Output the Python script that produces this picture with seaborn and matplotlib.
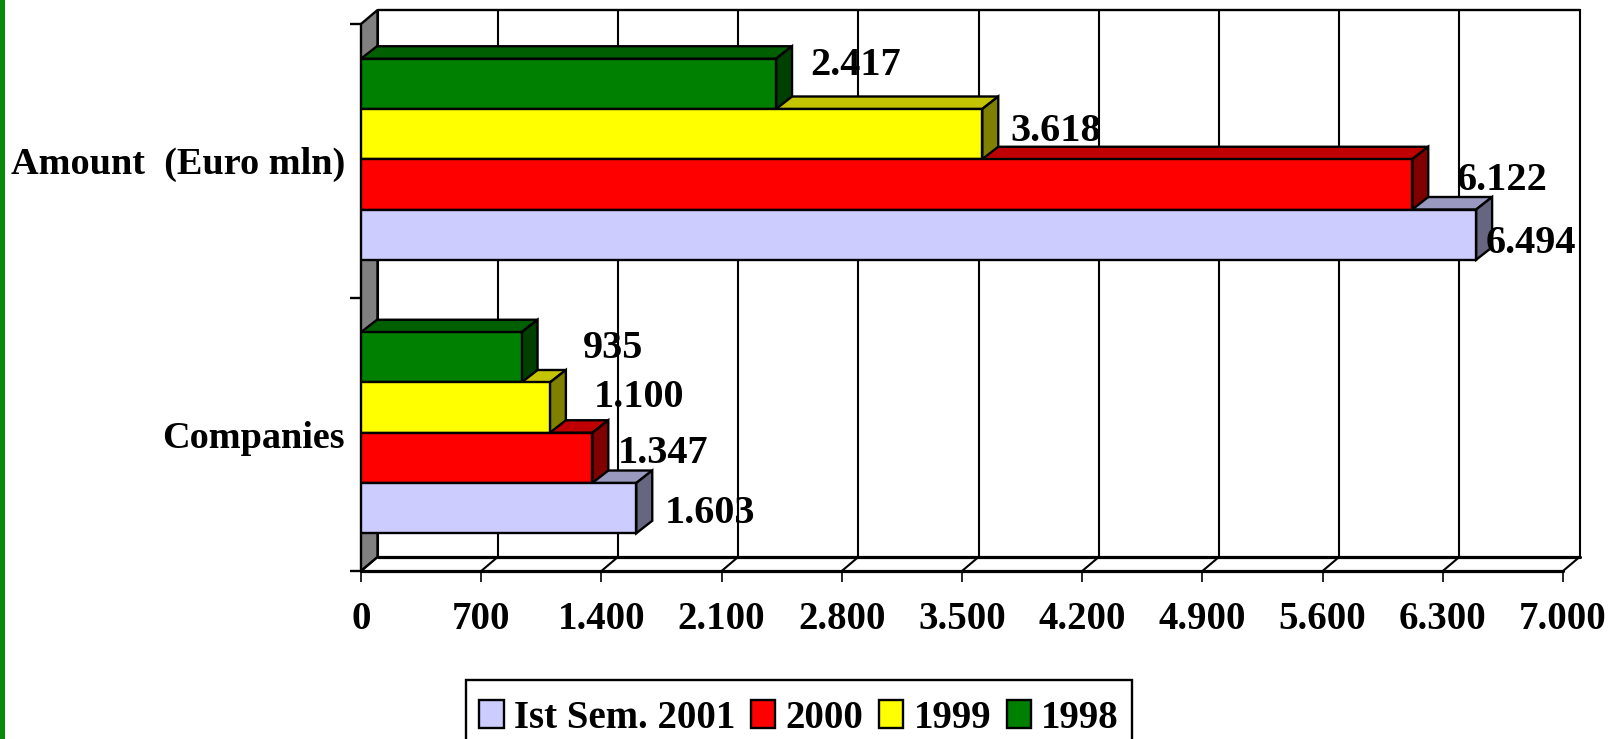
import numpy as np
import pandas as pd
import matplotlib
matplotlib.use('Agg')
import matplotlib.pyplot as plt
from matplotlib.patches import Polygon, Rectangle
import seaborn as sns

measures = ['Amount  (Euro mln)', 'Companies']
periods = ['1998', '1999', '2000', 'Ist Sem. 2001']
values_1998 = [2417, 935]
values_1999 = [3618, 1100]
values_2000 = [6122, 1347]
values_2001 = [6494, 1603]
x_ticks = [0, 700, 1400, 2100, 2800, 3500, 4200, 4900, 5600, 6300, 7000]

front_colors = {'1998': '#008000', '1999': '#FFFF00', '2000': '#FF0000', 'Ist Sem. 2001': '#CCCCFF'}
top_colors = {'1998': '#005F00', '1999': '#C4C400', '2000': '#BF0000', 'Ist Sem. 2001': '#9999BF'}
side_colors = {'1998': '#004000', '1999': '#808000', '2000': '#800000', 'Ist Sem. 2001': '#666680'}

rows = []
for period, vals in zip(periods, [values_1998, values_1999, values_2000, values_2001]):
    for measure, v in zip(measures, vals):
        rows.append({'measure': measure, 'period': period, 'value': v})
df = pd.DataFrame(rows)

W, H = 1616, 739
sns.set_style('white')
plt.rcParams['font.family'] = ['Liberation Serif', 'DejaVu Serif']
plt.rcParams['font.weight'] = 'bold'
plt.rcParams['text.color'] = 'black'
FS = 28

fig = plt.figure(figsize=(W / 100, H / 100), dpi=100)
fig.patches.append(Rectangle((0, 0), 5 / W, 1, transform=fig.transFigure, facecolor='#0A8A0A', edgecolor='none'))

# front plane of the 3d box in pixels
left, right, top, bottom = 361, 1563, 24, 571
ax = fig.add_axes([left / W, 1 - bottom / H, (right - left) / W, (bottom - top) / H])
ax.patch.set_alpha(0)

sns.barplot(data=df, y='measure', x='value', hue='period', hue_order=periods, order=measures,
            palette=front_colors, saturation=1, width=0.735, gap=0, dodge=True,
            edgecolor='black', linewidth=1.7, legend=False, ax=ax)

ax.set_xlim(0, 7000)
ax.set_ylim(1.5, -0.5)
ax.set_xlabel('')
ax.set_ylabel('')
for s in ax.spines.values():
    s.set_visible(False)

px_x = 7000 / (right - left)
px_y = 2 / (bottom - top)
wall_dx, wall_dy = 16.5 * px_x, 14 * px_y
bar_dx, bar_dy = 16 * px_x, 12.5 * px_y
lw = 1.7
ink = '#000000'

# left wall, back wall and floor
ax.add_patch(Polygon([(0, -0.5), (wall_dx, -0.5 - wall_dy), (wall_dx, 1.5 - wall_dy), (0, 1.5)],
                     closed=True, facecolor='#808080', edgecolor=ink, linewidth=lw, clip_on=False, zorder=1))
ax.plot([wall_dx, 7000 + wall_dx], [-0.5 - wall_dy] * 2, color=ink, lw=lw, clip_on=False, zorder=1)
ax.plot([wall_dx, 7000 + wall_dx], [1.5 - wall_dy] * 2, color=ink, lw=lw + 0.6, clip_on=False, zorder=1)
ax.plot([0, 7000], [1.5, 1.5], color=ink, lw=lw + 0.6, clip_on=False, zorder=1)
for t in x_ticks:
    ax.plot([t + wall_dx] * 2, [-0.5 - wall_dy, 1.5 - wall_dy], color=ink, lw=lw - 0.2, clip_on=False, zorder=1)
    ax.plot([t, t + wall_dx], [1.5, 1.5 - wall_dy], color=ink, lw=lw - 0.2, clip_on=False, zorder=1)

# side and top faces, upper bars sit over the top faces of the lower ones
for i, (period, cont) in enumerate(zip(periods, ax.containers)):
    z = 6 - i
    for bar in cont:
        bar.set_zorder(8)
        bar.set_y(bar.get_y() - 1.5 * px_y)
        w = bar.get_width()
        y0, y1 = bar.get_y(), bar.get_y() + bar.get_height()
        ax.add_patch(Polygon([(0, y0), (w, y0), (w + bar_dx, y0 - bar_dy), (bar_dx, y0 - bar_dy)], closed=True,
                             facecolor=top_colors[period], edgecolor=ink, linewidth=lw, clip_on=False, zorder=z))
        ax.add_patch(Polygon([(w, y0), (w + bar_dx, y0 - bar_dy), (w + bar_dx, y1 - bar_dy), (w, y1)], closed=True,
                             facecolor=side_colors[period], edgecolor=ink, linewidth=lw, clip_on=False, zorder=z))

# value labels, nudged by hand from the bar end like the original
nudges = {'1998': [(34, 23), (61, 13)], '1999': [(28, 7), (44, 15)],
          '2000': [(44, 8.5), (25, 9)], 'Ist Sem. 2001': [(10, -4.5), (28, -1)]}
for period, cont in zip(periods, ax.containers):
    for bar, (nx, ny) in zip(cont, nudges[period]):
        label = f'{int(bar.get_width()):,}'.replace(',', '.')
        ax.annotate(label, (bar.get_width(), bar.get_y() + bar.get_height() / 2),
                    xytext=(nx * 0.72, ny * 0.72), textcoords='offset points',
                    ha='left', va='center_baseline', fontsize=29, fontweight='bold', color='black', zorder=10,
                    annotation_clip=False)

ax.set_xticks(x_ticks)
ax.set_xticklabels([f'{t:,}'.replace(',', '.') for t in x_ticks], fontsize=FS, fontweight='bold')
ax.set_yticks([0, 1])
ax.set_yticklabels(measures, fontsize=27.5, fontweight='bold')
ax.set_yticks([-0.5, 0.5, 1.5], minor=True)
ax.tick_params(axis='x', which='major', bottom=True, length=8, width=1.2, color=ink, pad=13.5, labelcolor='black')
ax.tick_params(axis='y', which='major', left=False, pad=8, labelcolor='black')
ax.tick_params(axis='y', which='minor', left=True, length=8, width=1.7, color=ink)

# legend, its box runs off the bottom of the image like the original
fig.patches.append(Rectangle((466 / W, -0.05), (1132 - 466) / W, 0.05 + 1 - 680 / H, transform=fig.transFigure,
                             facecolor='white', edgecolor='black', linewidth=1.7))
handles = [Rectangle((0, 0), 1, 1, facecolor=front_colors[p], edgecolor='black', linewidth=1.7) for p in periods[::-1]]
fig.legend(handles, periods[::-1], ncol=4, loc='center', bbox_to_anchor=(799 / W, 1 - 718 / H), frameon=False,
           fontsize=FS, labelcolor='black', handlelength=0.63, handleheight=0.75, handletextpad=0.26,
           columnspacing=0.4, borderpad=0, borderaxespad=0)

fig.savefig('out.png', dpi=100)
